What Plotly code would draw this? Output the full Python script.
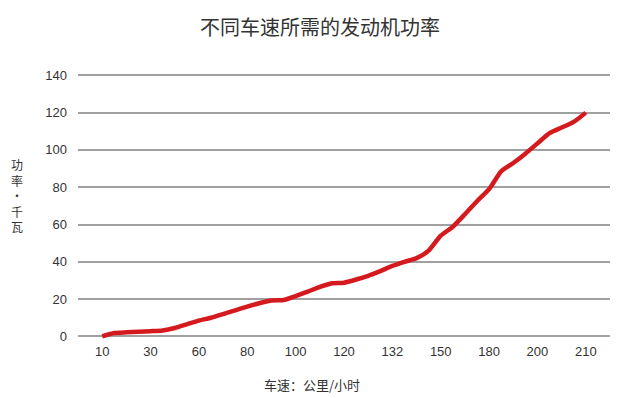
import plotly.graph_objects as go

# Category tick labels (speed, km/h)
speed_labels = ["10", "30", "60", "80", "100", "120", "132", "150", "180", "200", "210"]

# Curve sampled along the category axis (fractional category index) and power values (kW)
curve_pos = [i * 0.25 for i in range(41)]
power_kw = [0, 1.8, 2.2, 2.5, 2.8, 3.2, 4.5, 6.5, 8.5, 10, 12, 14, 16, 17.8, 19.3, 19.5,
            21.6, 24, 26.5, 28.5, 28.8, 30.5, 32.5, 35, 37.8, 40, 42, 46, 54, 58.8,
            65.5, 72.5, 79, 88.5, 93, 98, 103.5, 109, 112, 115, 120]

y_ticks = [0, 20, 40, 60, 80, 100, 120, 140]

fig = go.Figure()
fig.add_trace(go.Scatter(
    x=curve_pos, y=power_kw, mode="lines",
    line=dict(color="#d51a1f", width=4.5, shape="spline", smoothing=0.6),
    hoverinfo="skip", showlegend=False,
))

fig.update_layout(
    width=640, height=398,
    margin=dict(l=78, r=30, t=66, b=56),
    paper_bgcolor="white", plot_bgcolor="white",
    font=dict(family="Liberation Sans, Arial, sans-serif", color="#333333", size=13),
    title=dict(text="不同车速所需的发动机功率", x=0.5, xanchor="center", y=0.93, yanchor="middle",
               font=dict(family="Noto Sans CJK SC", size=20, color="#333333")),
    xaxis=dict(range=[-0.5, 10.5], tickmode="array", tickvals=list(range(len(speed_labels))),
               ticktext=speed_labels, showgrid=False, zeroline=False, showline=False,
               ticks="", tickfont=dict(size=13, color="#333333")),
    yaxis=dict(range=[-3, 145], tickmode="array", tickvals=y_ticks,
               showgrid=True, gridcolor="#a0a0a0", gridwidth=1.5, zeroline=False,
               showline=False, ticks="", ticklabelstandoff=10,
               tickfont=dict(size=13, color="#333333")),
    annotations=[
        dict(text="功<br>率<br>·<br>千<br>瓦", xref="paper", yref="paper", x=-0.115, y=0.53,
             xanchor="center", yanchor="middle", showarrow=False, align="center",
             font=dict(family="Noto Sans CJK SC", size=12, color="#333333")),
        dict(text="车速：公里/小时", xref="paper", yref="paper", x=0.44, y=-0.155,
             xanchor="center", yanchor="middle", showarrow=False,
             font=dict(family="Noto Sans CJK SC", size=13, color="#333333")),
    ],
)

fig.write_html("out.html")
